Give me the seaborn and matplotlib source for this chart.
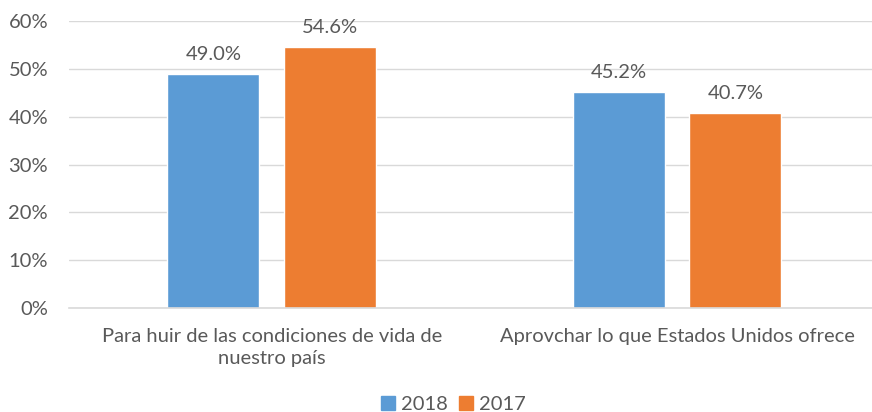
import pandas as pd
import seaborn as sns
from matplotlib import pyplot as plt
from matplotlib.patches import Patch
import matplotlib.ticker as mtick

categories = ["Para huir de las condiciones de vida de\nnuestro país",
              "Aprovchar lo que Estados Unidos ofrece"]
years = ["2018", "2017"]
values_2018 = [49.0, 45.2]
values_2017 = [54.6, 40.7]

df = pd.DataFrame({
    "motivo": categories * 2,
    "anio": [years[0]] * 2 + [years[1]] * 2,
    "pct": values_2018 + values_2017,
})

sns.set_theme(style="white")
plt.rcParams["font.family"] = ["Lato", "DejaVu Sans"]
gray = "#595959"
colors = {"2018": "#5B9BD5", "2017": "#ED7D31"}
fs = 14.5

fig = plt.figure(figsize=(8.72, 4.12), dpi=100)
ax = fig.add_axes([0.079, 0.252, 0.93, 0.697])

sns.barplot(data=df, x="motivo", y="pct", hue="anio", hue_order=years,
            palette=colors, width=0.575, gap=0.21, ax=ax, legend=False,
            saturation=1)

for cont in ax.containers:
    ax.bar_label(cont, fmt="%.1f%%", padding=8, fontsize=fs, color=gray)

ax.set_ylim(0, 60)
ax.set_yticks(range(0, 61, 10))
ax.yaxis.set_major_formatter(mtick.PercentFormatter(decimals=0))
ax.grid(axis="y", color="#D9D9D9", linewidth=1)
ax.set_axisbelow(True)
for s in ["top", "right", "left"]:
    ax.spines[s].set_visible(False)
ax.spines["bottom"].set_color("#D9D9D9")
ax.spines["bottom"].set_linewidth(1.2)
ax.tick_params(axis="y", length=0, labelsize=fs, labelcolor=gray, pad=15)
ax.tick_params(axis="x", length=0, labelsize=fs, labelcolor=gray, pad=14)
for t in ax.get_xticklabels():
    t.set_linespacing(1.35)
ax.set_xlabel("")
ax.set_ylabel("")

handles = [Patch(color=colors[y], label=y) for y in years]
fig.legend(handles=handles, loc="lower center", bbox_to_anchor=(0.52, -0.047),
           ncol=2, frameon=False, fontsize=fs, labelcolor=gray,
           handlelength=0.7, handleheight=0.7, handletextpad=0.3,
           columnspacing=0.55)

plt.savefig("out.png", dpi=100)
